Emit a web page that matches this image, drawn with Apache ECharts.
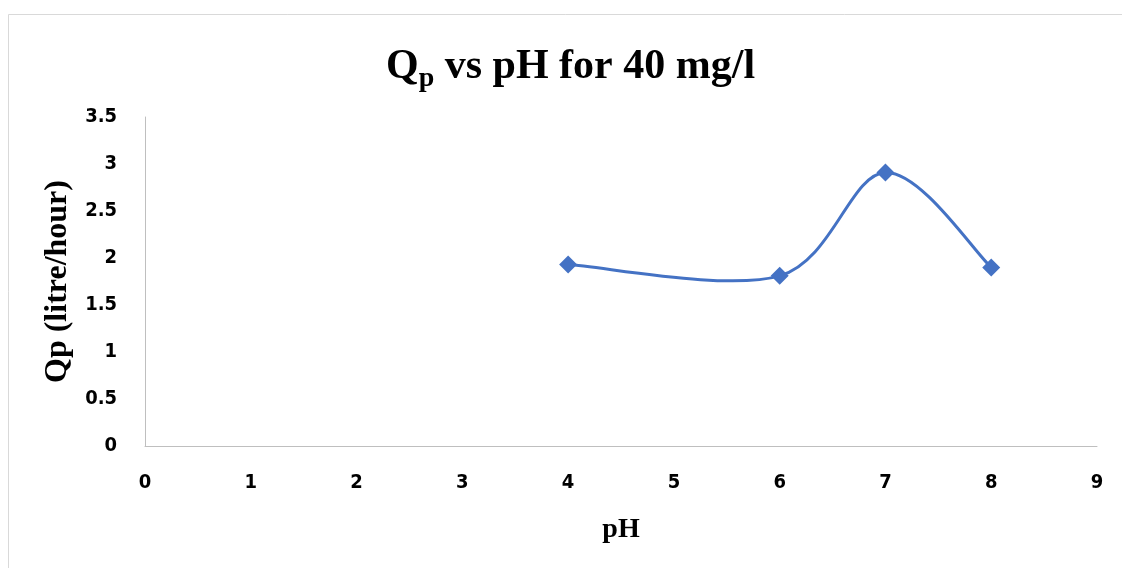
<!DOCTYPE html>
<html>
<head>
<meta charset="utf-8">
<script src="https://cdn.jsdelivr.net/npm/echarts@6/dist/echarts.min.js"></script>
<style>
  html, body { margin: 0; padding: 0; background: #fff; }
  #main { width: 1122px; height: 568px; }
</style>
</head>
<body>
<div id="main"></div>
<script>
// pH values and measured permeate flux
var phValues = [4, 6, 7, 8];
var qpValues = [1.93, 1.81, 2.91, 1.90];
var xTicks = [0, 1, 2, 3, 4, 5, 6, 7, 8, 9];
var yTicks = [0, 0.5, 1, 1.5, 2, 2.5, 3, 3.5];

var points = [];
for (var i = 0; i < phValues.length; i++) {
    points.push([phValues[i], qpValues[i]]);
}

var chart = echarts.init(document.getElementById('main'));
var lineColor = '#4472c4';
var tickFont = {
    color: '#000',
    fontWeight: 'bold',
    fontSize: 20,
    fontFamily: 'DejaVu Sans Condensed'
};

// excel style smoothed segment (catmull-rom), one bezier per data item
function renderSegment(params, api) {
    var i = params.dataIndexInside;
    var n = params.dataInsideLength;
    if (i >= n - 1) {
        return null;
    }
    function pt(k) {
        k = Math.max(0, Math.min(n - 1, k));
        return api.coord([api.value(0, k), api.value(1, k)]);
    }
    var p0 = pt(i - 1), p1 = pt(i), p2 = pt(i + 1), p3 = pt(i + 2);
    return {
        type: 'bezierCurve',
        shape: {
            x1: p1[0], y1: p1[1],
            cpx1: p1[0] + (p2[0] - p0[0]) / 6,
            cpy1: p1[1] + (p2[1] - p0[1]) / 6,
            cpx2: p2[0] - (p3[0] - p1[0]) / 6,
            cpy2: p2[1] - (p3[1] - p1[1]) / 6,
            x2: p2[0], y2: p2[1]
        },
        style: { fill: null, stroke: lineColor, lineWidth: 3 }
    };
}

var option = {
    backgroundColor: '#fff',
    animation: false,
    title: {
        text: '{q|Q}{s|p}{q| vs pH for 40 mg/l}',
        left: 381,
        top: 36,
        textStyle: {
            rich: {
                q: { fontFamily: 'Liberation Serif', fontWeight: 'bold', fontSize: 42, color: '#000' },
                s: { fontFamily: 'Liberation Serif', fontWeight: 'bold', fontSize: 28, color: '#000', padding: [24, 0, 0, 0] }
            }
        }
    },
    graphic: [{
        type: 'rect',
        shape: { x: 8.5, y: 14.5, width: 1130, height: 560 },
        style: { fill: 'none', stroke: '#d9d9d9', lineWidth: 1 },
        silent: true
    }],
    grid: { left: 145, right: 25, top: 117, bottom: 122 },
    xAxis: {
        type: 'value',
        min: xTicks[0],
        max: xTicks[xTicks.length - 1],
        interval: 1,
        name: 'pH',
        nameLocation: 'middle',
        nameGap: 70,
        nameTextStyle: { fontFamily: 'Liberation Serif', fontWeight: 'bold', fontSize: 28, color: '#000' },
        axisLine: { lineStyle: { color: '#bfbfbf', width: 1 } },
        axisTick: { show: false },
        splitLine: { show: false },
        axisLabel: Object.assign({ margin: 27 }, tickFont)
    },
    yAxis: {
        type: 'value',
        min: yTicks[0],
        max: yTicks[yTicks.length - 1],
        interval: 0.5,
        name: 'Qp (litre/hour)',
        nameLocation: 'middle',
        nameGap: 67,
        nameTextStyle: { fontFamily: 'Liberation Serif', fontWeight: 'bold', fontSize: 32, color: '#000' },
        axisLine: { show: true, lineStyle: { color: '#bfbfbf', width: 1 } },
        axisTick: { show: false },
        splitLine: { show: false },
        axisLabel: Object.assign({ margin: 28 }, tickFont)
    },
    series: [{
        type: 'custom',
        coordinateSystem: 'cartesian2d',
        data: points,
        encode: { x: 0, y: 1 },
        renderItem: renderSegment,
        silent: true,
        z: 2
    }, {
        type: 'scatter',
        data: points,
        symbol: 'diamond',
        symbolSize: 18,
        itemStyle: { color: lineColor, opacity: 1 },
        z: 3
    }]
};
chart.setOption(option);
</script>
</body>
</html>
